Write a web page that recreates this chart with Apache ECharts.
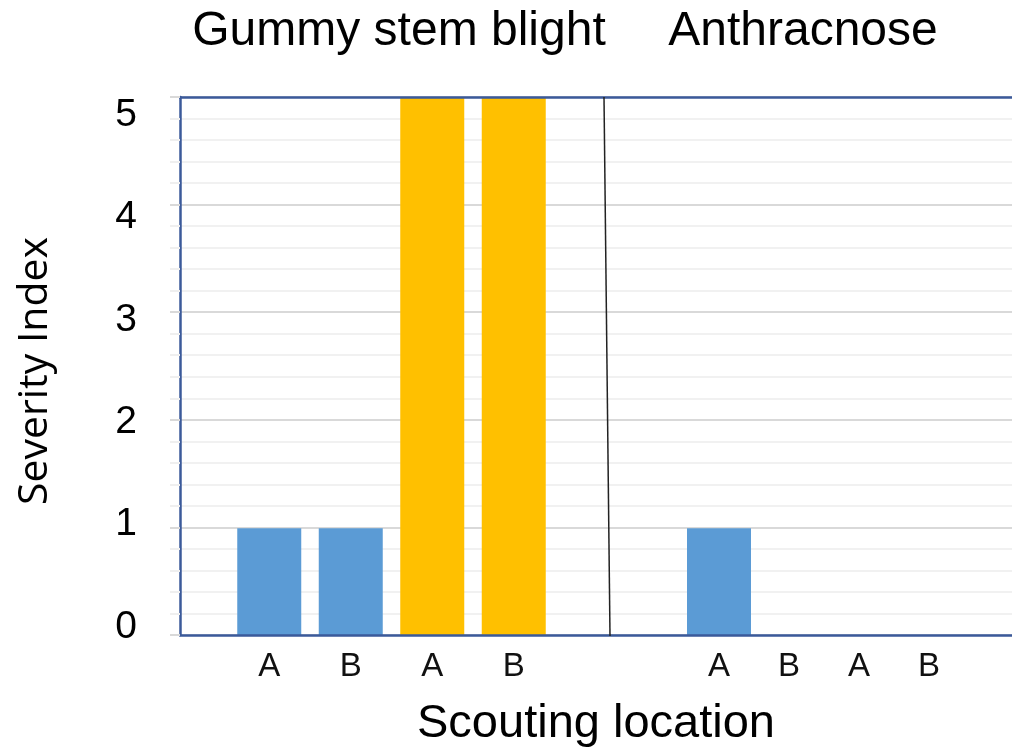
<!DOCTYPE html>
<html>
<head>
<meta charset="utf-8">
<script src="https://cdn.jsdelivr.net/npm/echarts@6/dist/echarts.min.js"></script>
<style>
  html, body { margin: 0; padding: 0; background: #fff; }
  #chart { width: 1012px; height: 753px; }
</style>
</head>
<body>
<div id="chart"></div>
<script>
// Severity index per scouting location, one panel per disease
const locationLabels = ['A', 'B', 'A', 'B'];
const gummyStemBlight = [1, 1, 5, 5];
const anthracnose = [1, 0, 0, 0];
const panelTitles = ['Gummy stem blight', 'Anthracnose'];
const yAxisTitle = 'Severity Index';
const xAxisTitle = 'Scouting location';

const BLUE = '#5B9BD5';
const GOLD = '#FFC000';
const FRAME = '#3B5A9A';
const FONT = '"Liberation Sans", Arial, sans-serif';

// first pair of locations in blue, second pair in gold
const pairColor = p => (p.dataIndex < 2 ? BLUE : GOLD);

const chart = echarts.init(document.getElementById('chart'), null, { renderer: 'canvas' });

const hiddenY = (gi) => ({
  type: 'value', gridIndex: gi, min: 0, max: 5, interval: 1,
  axisLine: { show: false }, axisTick: { show: false },
  axisLabel: { show: false }, splitLine: { show: false }
});

const groupX = (gi) => ({
  type: 'category', gridIndex: gi, data: locationLabels,
  axisLine: { show: false }, axisTick: { show: false },
  axisLabel: { fontFamily: FONT, fontSize: 33, color: '#111', margin: 14 }
});

const frameLine = { show: true, onZero: false, lineStyle: { color: FRAME, width: 2.5 } };

chart.setOption({
  animation: false,
  backgroundColor: '#fff',
  grid: [
    // plot frame with gridlines
    { left: 180, top: 97, width: 834, height: 539 },
    // gummy stem blight bars
    { left: 228.5, top: 97, width: 326, height: 539 },
    // anthracnose bars
    { left: 684, top: 97, width: 280, height: 539 },
    // tick labels of the severity scale
    { left: 180, top: 115, width: 834, height: 512 }
  ],
  xAxis: [
    {
      type: 'category', gridIndex: 0, data: [''], position: 'bottom', z: 5,
      axisLine: frameLine,
      axisTick: { show: false }, axisLabel: { show: false },
      name: xAxisTitle, nameLocation: 'middle', nameGap: 66,
      nameTextStyle: { fontFamily: FONT, fontSize: 47, color: '#000' }
    },
    {
      type: 'category', gridIndex: 0, data: [''], position: 'top', z: 5,
      axisLine: frameLine,
      axisTick: { show: false }, axisLabel: { show: false }
    },
    groupX(1),
    groupX(2),
    { type: 'category', gridIndex: 3, data: [''], show: false }
  ],
  yAxis: [
    {
      // gridlines, kept beneath the bars
      type: 'value', gridIndex: 0, min: 0, max: 5, interval: 1, z: 0, position: 'right',
      axisLine: { show: false },
      axisTick: { show: false },
      axisLabel: { show: false },
      splitLine: { show: true, lineStyle: { color: '#d9d9d9', width: 2 } },
      minorSplitLine: { show: true, lineStyle: { color: '#f1f1f1', width: 2 } },
      minorTick: { show: false, splitNumber: 5 }
    },
    hiddenY(1),
    hiddenY(2),
    {
      type: 'value', gridIndex: 3, min: 0, max: 5, interval: 1,
      axisLine: { show: false }, axisTick: { show: false }, splitLine: { show: false },
      axisLabel: { fontFamily: FONT, fontSize: 39, color: '#000', margin: 43 },
      name: yAxisTitle, nameLocation: 'middle', nameGap: 124, nameRotate: 90,
      nameTextStyle: { fontFamily: '"Open Sans", "Noto Sans", sans-serif', fontSize: 41, color: '#000' }
    },
    {
      // left edge of the frame, with short tick stubs outside it
      type: 'value', gridIndex: 0, min: 0, max: 5, interval: 1, z: 5, position: 'left',
      axisLine: frameLine,
      axisTick: { show: true, length: 10, lineStyle: { color: '#d9d9d9', width: 2 } },
      minorTick: { show: true, splitNumber: 5, length: 10, lineStyle: { color: '#efefef', width: 2 } },
      axisLabel: { show: false }, splitLine: { show: false }
    }
  ],
  series: [
    {
      name: panelTitles[0], type: 'bar', xAxisIndex: 2, yAxisIndex: 1,
      data: gummyStemBlight, barWidth: 64, z: 2,
      itemStyle: { color: pairColor }
    },
    {
      name: panelTitles[1], type: 'bar', xAxisIndex: 3, yAxisIndex: 2,
      data: anthracnose, barWidth: 64, z: 2,
      itemStyle: { color: pairColor }
    }
  ],
  graphic: [
    {
      type: 'text', x: 399, y: 32, z: 10,
      style: { text: panelTitles[0], fontFamily: FONT, fontSize: 48, fill: '#000',
               align: 'center', verticalAlign: 'middle', textAlign: 'center', textVerticalAlign: 'middle' }
    },
    {
      type: 'text', x: 803, y: 32, z: 10,
      style: { text: panelTitles[1], fontFamily: FONT, fontSize: 48, fill: '#000',
               align: 'center', verticalAlign: 'middle', textAlign: 'center', textVerticalAlign: 'middle' }
    },
    // separator between the two disease panels
    {
      type: 'line', z: 10,
      shape: { x1: 604, y1: 97, x2: 610, y2: 636 },
      style: { stroke: '#222', lineWidth: 1.5 }
    }
  ]
});
</script>
</body>
</html>
